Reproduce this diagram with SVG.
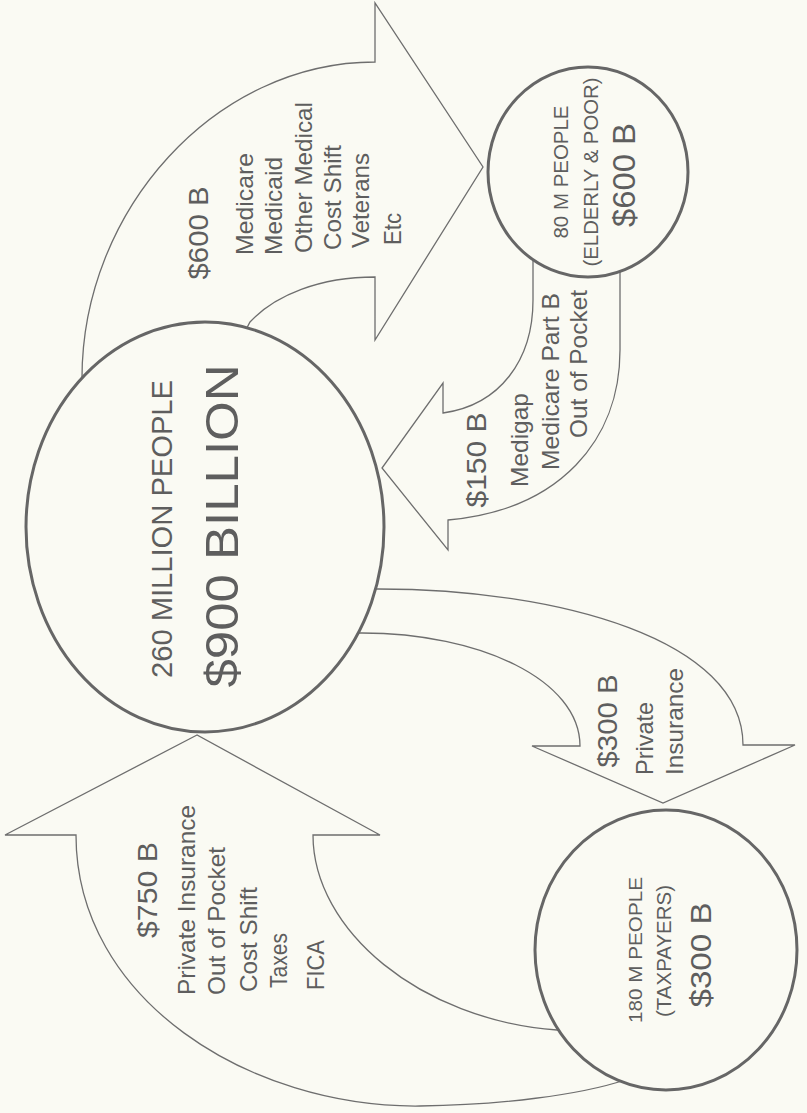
<svg xmlns="http://www.w3.org/2000/svg" width="807" height="1113" viewBox="0 0 807 1113">
<style>
.bg{fill:#fafaf3}
.arrow{fill:#fafaf3;stroke:#6e6e6e;stroke-width:1.3;stroke-linejoin:miter}
.node{fill:#fafaf3;stroke:#666;stroke-width:3}
text{font-family:"Liberation Sans",Arial,Helvetica,sans-serif;fill:#5e5e5e}
.lbl{font-size:24px}
.amt{font-size:27px}
</style>
<rect class="bg" x="0" y="0" width="807" height="1113"/>
<g id="connectors">
  <g id="arrow-600">
    <path class="arrow" d="M100,410 L82,378 C82,210 215,62 375,62 L375,3 L483,167 L375,340 L375,277 C320,277 275,295 250,322 L230,360 Z"/>
    <text class="amt" transform="translate(208,233) rotate(-90)" text-anchor="middle" textLength="93" lengthAdjust="spacingAndGlyphs">$600 B</text>
    <text class="lbl" transform="translate(253,255) rotate(-90)" textLength="102" lengthAdjust="spacingAndGlyphs">Medicare</text>
    <text class="lbl" transform="translate(282,255) rotate(-90)" textLength="98" lengthAdjust="spacingAndGlyphs">Medicaid</text>
    <text class="lbl" transform="translate(312,253) rotate(-90)" textLength="151" lengthAdjust="spacingAndGlyphs">Other Medical</text>
    <text class="lbl" transform="translate(341,250) rotate(-90)" textLength="105" lengthAdjust="spacingAndGlyphs">Cost Shift</text>
    <text class="lbl" transform="translate(369,248) rotate(-90)" textLength="95" lengthAdjust="spacingAndGlyphs">Veterans</text>
    <text class="lbl" transform="translate(401,245) rotate(-90)" textLength="32" lengthAdjust="spacingAndGlyphs">Etc</text>
  </g>
  <g id="arrow-150">
    <path class="arrow" d="M620,250 L620,350 C620,440 560,510 448,520 L448,550 L382,468 L443,383 L443,413 C500,405 533,360 533,300 L533,250 Z"/>
    <text class="amt" transform="translate(486,460) rotate(-90)" text-anchor="middle" textLength="95" lengthAdjust="spacingAndGlyphs">$150 B</text>
    <text class="lbl" transform="translate(528,487) rotate(-90)" textLength="94" lengthAdjust="spacingAndGlyphs">Medigap</text>
    <text class="lbl" transform="translate(559,470) rotate(-90)" textLength="177" lengthAdjust="spacingAndGlyphs">Medicare Part B</text>
    <text class="lbl" transform="translate(587,438) rotate(-90)" textLength="148" lengthAdjust="spacingAndGlyphs">Out of Pocket</text>
  </g>
  <g id="arrow-300">
    <path class="arrow" d="M350,589 L378,589 C560,589 743,640 743,745 L795,745 L663,803 L532,746 L580,746 C580,680 480,633 362,633 L350,633 Z"/>
    <text class="amt" transform="translate(617,721) rotate(-90)" text-anchor="middle" textLength="93" lengthAdjust="spacingAndGlyphs">$300 B</text>
    <text class="lbl" transform="translate(653,775) rotate(-90)" textLength="73" lengthAdjust="spacingAndGlyphs">Private</text>
    <text class="lbl" transform="translate(683,775) rotate(-90)" textLength="107" lengthAdjust="spacingAndGlyphs">Insurance</text>
  </g>
  <g id="arrow-750">
    <path class="arrow" d="M197,735 L5,835 L76,835 C76,1000 250,1108 420,1106 C500,1105 580,1095 625,1080 L600,1040 L557,1030 C420,1020 313,930 313,835 L380,835 Z"/>
    <text class="amt" transform="translate(157,890) rotate(-90)" text-anchor="middle" textLength="96" lengthAdjust="spacingAndGlyphs">$750 B</text>
    <text class="lbl" transform="translate(195,995) rotate(-90)" textLength="190" lengthAdjust="spacingAndGlyphs">Private Insurance</text>
    <text class="lbl" transform="translate(225,995) rotate(-90)" textLength="148" lengthAdjust="spacingAndGlyphs">Out of Pocket</text>
    <text class="lbl" transform="translate(257,992) rotate(-90)" textLength="105" lengthAdjust="spacingAndGlyphs">Cost Shift</text>
    <text class="lbl" transform="translate(287,988) rotate(-90)" textLength="55" lengthAdjust="spacingAndGlyphs">Taxes</text>
    <text class="lbl" transform="translate(324,990) rotate(-90)" textLength="50" lengthAdjust="spacingAndGlyphs">FICA</text>
  </g>
</g>
<g id="node-total">
  <ellipse class="node" cx="205" cy="527" rx="179" ry="205"/>
  <text transform="translate(172,529) rotate(-90)" text-anchor="middle" font-size="29" textLength="298" lengthAdjust="spacingAndGlyphs">260 MILLION PEOPLE</text>
  <text transform="translate(238,526) rotate(-90)" text-anchor="middle" font-size="47" textLength="323" lengthAdjust="spacingAndGlyphs" fill="#555">$900 BILLION</text>
</g>
<g id="node-elderly">
  <ellipse class="node" cx="588" cy="172" rx="100" ry="105"/>
  <text transform="translate(568,172) rotate(-90)" text-anchor="middle" font-size="20" textLength="133" lengthAdjust="spacingAndGlyphs">80 M PEOPLE</text>
  <text transform="translate(598,172) rotate(-90)" text-anchor="middle" font-size="21" textLength="189" lengthAdjust="spacingAndGlyphs">(ELDERLY &amp; POOR)</text>
  <text transform="translate(635,175) rotate(-90)" text-anchor="middle" font-size="31" textLength="104" lengthAdjust="spacingAndGlyphs">$600 B</text>
</g>
<g id="node-taxpayers">
  <ellipse class="node" cx="666" cy="950" rx="131" ry="140"/>
  <text transform="translate(642,950) rotate(-90)" text-anchor="middle" font-size="18" textLength="146" lengthAdjust="spacingAndGlyphs">180 M PEOPLE</text>
  <text transform="translate(671,951) rotate(-90)" text-anchor="middle" font-size="20" textLength="132" lengthAdjust="spacingAndGlyphs">(TAXPAYERS)</text>
  <text transform="translate(711,955) rotate(-90)" text-anchor="middle" font-size="30" textLength="105" lengthAdjust="spacingAndGlyphs">$300 B</text>
</g>
</svg>
